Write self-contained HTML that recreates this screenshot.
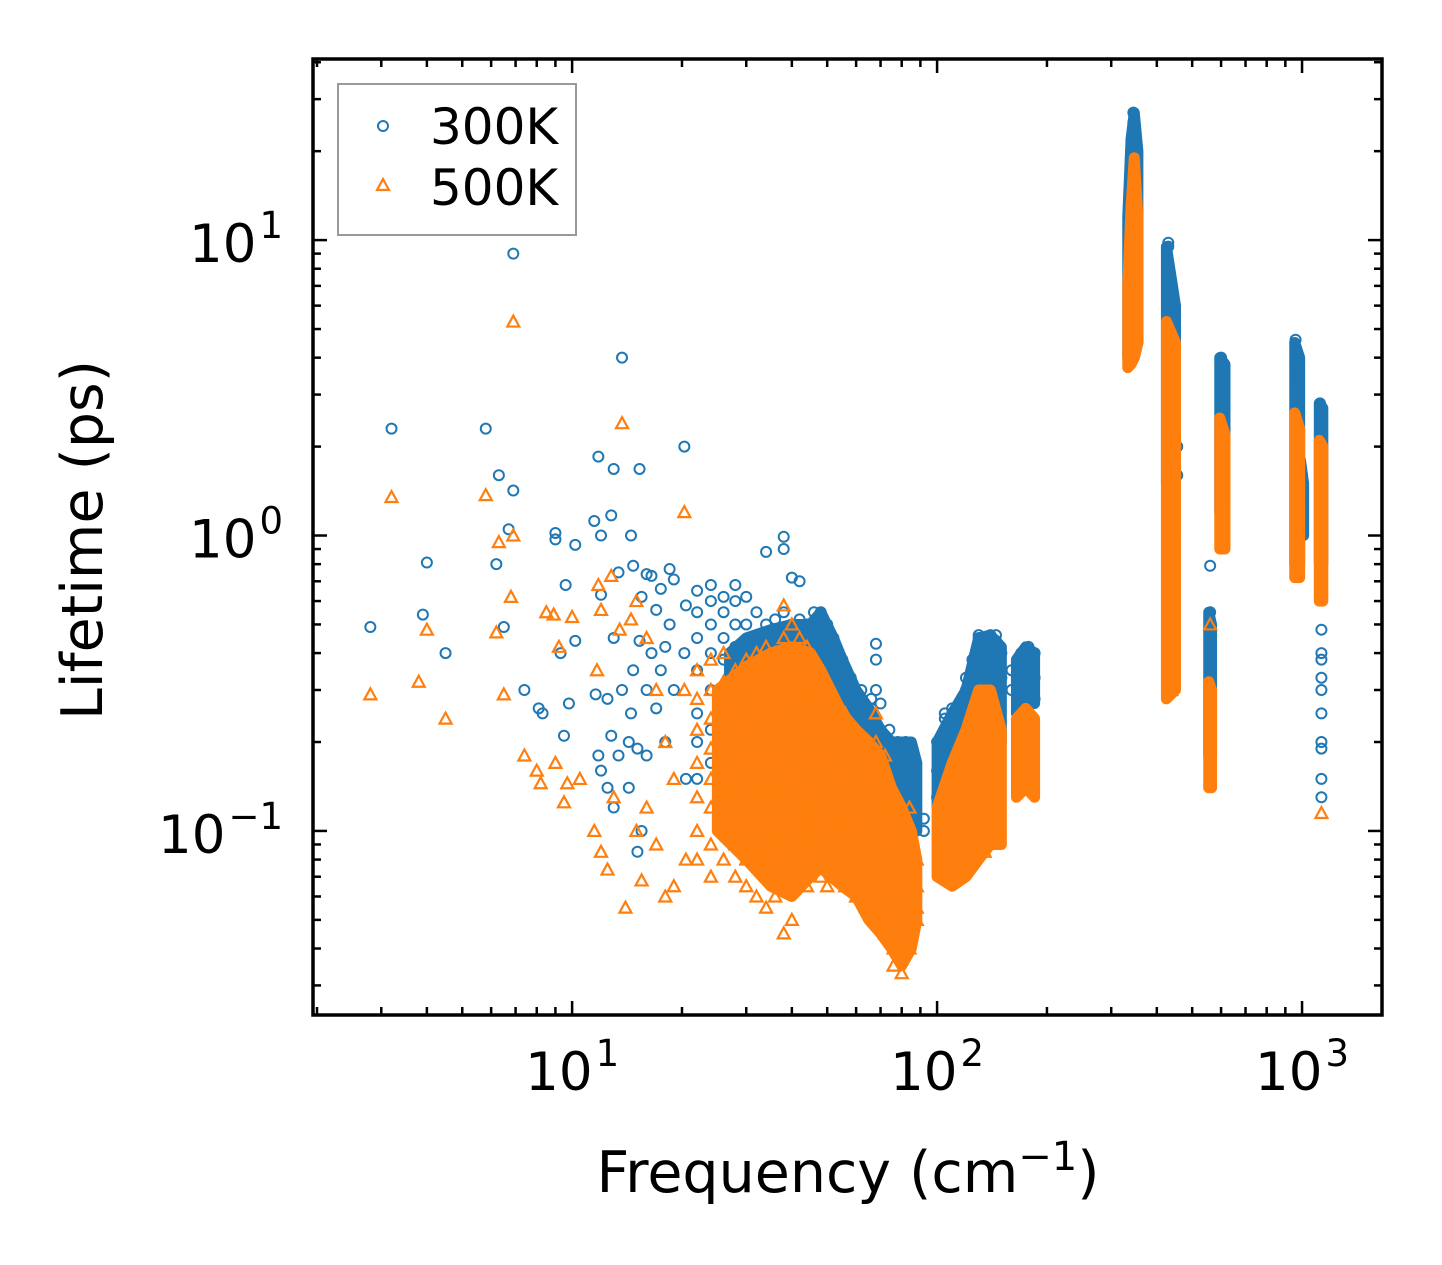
<!DOCTYPE html>
<html><head><meta charset="utf-8"><style>
html,body{margin:0;padding:0;background:#fff;}
svg{display:block;font-family:"DejaVu Sans","Liberation Sans",sans-serif;}
</style></head><body>
<svg id="chart" width="1442" height="1265" viewBox="0 0 1442 1265" xmlns="http://www.w3.org/2000/svg">
<g id="marks300"></g>
<g id="marks500"></g>
<g id="axes"></g>
<rect x="313" y="59" width="1069" height="956" fill="none" stroke="#000" stroke-width="3.5"/>
<g>
<rect x="338" y="84" width="238" height="151" fill="#fff" fill-opacity="0.8" stroke="#999" stroke-width="2"/>
<g>
<circle cx="383" cy="126" r="5" fill="none" stroke="#1f77b4" stroke-width="2"/>
<text x="430" y="144" font-size="50">300K</text></g>
<g>
<polygon points="383,179 389,190 377,190" fill="none" stroke="#ff7f0e" stroke-width="2.2"/>
<text x="430" y="205" font-size="50">500K</text></g>
</g>
<text x="848" y="1192" font-size="57" text-anchor="middle">Frequency (cm<tspan dy="-22" font-size="40">−1</tspan><tspan dy="22">)</tspan></text>
<text transform="translate(102,540) rotate(-90)" font-size="57" text-anchor="middle">Lifetime (ps)</text>
</svg>
<script>
// data: [frequency, [lifetimes...]]
const blue300 = [
[2.8,[0.49]],[3.2,[2.3]],[3.9,[0.54]],[4.0,[0.81]],[4.5,[0.40]],[5.8,[2.3]],[6.2,[0.8]],[6.3,[1.6]],[6.5,[0.49]],[6.7,[1.05]],[6.9,[9.0,1.42]],[7.4,[0.30]],[8.1,[0.26]],[8.3,[0.25]],[9.0,[0.97,1.02]],[9.3,[0.40]],[9.5,[0.21]],[9.6,[0.68]],[9.8,[0.27]],[10.2,[0.93,0.44]],[11.5,[1.12]],[11.6,[0.29]],[11.8,[1.85,0.18]],[12,[1.0,0.63,0.16]],[12.5,[0.28,0.14]],[12.8,[1.17,0.21]],[13,[1.68,0.45,0.12]],[13.4,[0.75,0.18]],[13.7,[4.0,0.3]],[14.3,[0.2,0.14]],[14.5,[1.0,0.25]],[14.7,[0.79,0.35]],[15.1,[0.085,0.19]],[15.3,[1.68,0.44]],[15.5,[0.62,0.1]],[16,[0.74,0.3,0.18]],[16.5,[0.73,0.4]],[17,[0.56,0.26]],[17.5,[0.66,0.35]],[18,[0.42,0.2]],[18.5,[0.77,0.5]],[19,[0.71,0.3]],[20.3,[2.0,0.4]],[20.5,[0.58,0.15]],
[22,[0.65,0.55,0.45,0.35,0.25,0.2,0.15]],[24,[0.68,0.6,0.5,0.4,0.3,0.22,0.17]],[26,[0.62,0.55,0.45,0.38,0.3,0.24]],[28,[0.68,0.6,0.5,0.42,0.33,0.26]],[30,[0.62,0.5,0.42,0.35,0.28]],[32,[0.55,0.46,0.38,0.3]],[34,[0.88,0.5,0.42,0.35]],[36,[0.52,0.44,0.37,0.3]],[38,[0.99,0.9,0.55,0.46,0.4]],[40,[0.72,0.5,0.43,0.36]],[42,[0.7,0.52,0.45,0.38]],[44,[0.5,0.43,0.36]],[46,[0.55,0.45,0.38,0.3]],[48,[0.55,0.5,0.42,0.34]],[50,[0.5,0.45,0.38,0.3,0.25]],[52,[0.45,0.4,0.33,0.27,0.22]],[55,[0.38,0.35,0.29,0.24,0.2]],[58,[0.33,0.3,0.25,0.21,0.17]],[62,[0.3,0.27,0.22,0.18]],[66,[0.28,0.26,0.21,0.17,0.14]],[68,[0.43,0.38,0.3]],[70,[0.27,0.22,0.18,0.15,0.12]],[74,[0.22,0.2,0.17,0.14,0.12]],[78,[0.2,0.18,0.15,0.13,0.11]],[82,[0.2,0.18,0.16,0.13,0.1]],[86,[0.15,0.12,0.1,0.09]],[92,[0.11,0.1]],
[100,[0.2,0.16,0.13]],[105,[0.25,0.24,0.18,0.14]],[110,[0.26,0.25,0.2,0.16]],[115,[0.25,0.22,0.18]],[120,[0.33,0.3,0.25,0.2]],[125,[0.38,0.35,0.28]],[130,[0.46,0.45,0.38,0.3]],[135,[0.45,0.42,0.35]],[140,[0.46,0.45,0.38,0.32]],[145,[0.46,0.44,0.36,0.3]],[150,[0.4,0.33]],[160,[0.35,0.3]],[170,[0.4,0.34,0.28]],[178,[0.42,0.36,0.3]],[185,[0.4,0.33,0.28]],
[345,[27,25]],[430,[9.8,9.5,8,7]],[438,[6,5,4]],[445,[2.7,2,1.5,1.2,0.9]],[455,[2,1.6]],
[560,[0.55,0.5,0.79]],[600,[4,3.7]],[610,[3.8]],
[960,[4.6,4.2,3.8]],[975,[4,3.4]],[1000,[1.6,1.3,1.1]],[1120,[2.8,2.5]],[1130,[2.7,0.48,0.4,0.38,0.33,0.3,0.25,0.2,0.19,0.15,0.13]]
];
const orange500 = [
[2.8,[0.29]],[3.2,[1.35]],[3.8,[0.32]],[4.0,[0.48]],[4.5,[0.24]],[5.8,[1.37]],[6.2,[0.47]],[6.3,[0.95]],[6.5,[0.29]],[6.8,[0.62]],[6.9,[5.3,1.0]],[7.4,[0.18]],[8,[0.16]],[8.2,[0.145]],[8.5,[0.55]],[8.9,[0.54]],[9,[0.17]],[9.2,[0.42]],[9.5,[0.125]],[9.7,[0.145]],[10,[0.53]],[10.5,[0.15]],[11.5,[0.1]],[11.7,[0.35]],[11.8,[0.68]],[12,[0.56,0.085]],[12.5,[0.074]],[12.8,[0.73]],[13,[0.13]],[13.5,[0.48]],[13.7,[2.4]],[14,[0.055]],[14.5,[0.52]],[15,[0.6,0.1]],[15.5,[0.068]],[16,[0.45,0.12]],[17,[0.09,0.3]],[18,[0.06,0.2]],[19,[0.065,0.15]],[20.3,[1.2,0.3]],[20.5,[0.08]],
[22,[0.35,0.28,0.22,0.17,0.13,0.1,0.08]],[24,[0.38,0.3,0.24,0.19,0.15,0.12,0.09,0.07]],[26,[0.4,0.32,0.25,0.2,0.16,0.13,0.1,0.08]],[28,[0.35,0.28,0.22,0.18,0.14,0.11,0.09,0.07]],[30,[0.38,0.3,0.24,0.19,0.15,0.12,0.1,0.08,0.065]],[32,[0.4,0.32,0.26,0.21,0.17,0.13,0.1,0.08,0.06]],[34,[0.42,0.34,0.27,0.21,0.17,0.13,0.1,0.08,0.055]],[36,[0.4,0.32,0.26,0.21,0.17,0.13,0.1,0.08,0.06]],[38,[0.58,0.45,0.36,0.29,0.23,0.18,0.14,0.11,0.085,0.065,0.045]],[40,[0.5,0.4,0.32,0.25,0.2,0.16,0.12,0.09,0.07,0.05]],[42,[0.45,0.36,0.29,0.23,0.18,0.14,0.11,0.085]],[44,[0.42,0.34,0.27,0.21,0.17,0.13,0.1,0.08,0.065]],[46,[0.38,0.3,0.24,0.19,0.15,0.12,0.095,0.075]],[48,[0.35,0.28,0.22,0.17,0.14,0.11,0.09,0.07]],[50,[0.3,0.24,0.19,0.15,0.12,0.1,0.08,0.065]],[53,[0.28,0.22,0.18,0.14,0.11,0.09,0.075]],[56,[0.25,0.2,0.16,0.13,0.1,0.08,0.065]],[60,[0.22,0.18,0.14,0.11,0.09,0.075,0.06]],[64,[0.18,0.15,0.12,0.1,0.08,0.065,0.055]],[68,[0.25,0.2,0.16,0.13,0.1,0.08,0.06,0.05]],[72,[0.18,0.14,0.11,0.09,0.07,0.055,0.045]],[76,[0.12,0.1,0.08,0.065,0.05,0.04,0.035]],[80,[0.1,0.08,0.065,0.05,0.04,0.033]],[84,[0.12,0.09,0.07,0.055,0.045,0.04]],[88,[0.08,0.065,0.055,0.05]],
[135,[0.085]],[438,[0.3]],[560,[0.5]],[1130,[0.115]]
];
// dense clusters: each cluster is a list of frequencies with lower/upper lifetime envelopes
const band300Freq = [[27,30,35,40,45,48,52,55,60,65,70,75,80,85,88],[100,110,120,130,140,150],[165,175,185],[333,340,347,355],[425,450],[555,565],[595,615],[955,985],[990,1010],[1115,1140]];
const band300Hi = [[0.4,0.45,0.48,0.5,0.5,0.55,0.45,0.38,0.3,0.26,0.22,0.2,0.2,0.2,0.17],[0.2,0.25,0.3,0.45,0.46,0.42],[0.38,0.42,0.4],[12,22,27,20],[9.5,6],[0.55,0.5],[4,3.8],[4.5,4],[1.8,1.5],[2.8,2.7]];
const band300Lo = [[0.25,0.18,0.12,0.1,0.1,0.1,0.1,0.1,0.1,0.1,0.1,0.1,0.1,0.1,0.1],[0.12,0.12,0.15,0.2,0.2,0.2],[0.25,0.27,0.27],[4,4,4,4.5],[1.5,1],[0.18,0.18],[1.2,1.3],[0.8,0.8],[1,1],[0.8,0.8]];
const band500Freq = [[25,30,35,40,45,48,55,60,65,70,75,80,85,88],[100,110,120,130,140,150],[165,175,185],[333,340,347,355],[425,450],[555,565],[595,615],[955,985],[1115,1140]];
const band500Hi = [[0.3,0.36,0.4,0.42,0.4,0.35,0.25,0.22,0.2,0.18,0.14,0.12,0.1,0.08],[0.12,0.17,0.22,0.3,0.3,0.22],[0.24,0.26,0.24],[7,13,19,12],[5.3,4.5],[0.32,0.3],[2.5,2.2],[2.6,2.3],[2.1,2]];
const band500Lo = [[0.1,0.08,0.065,0.06,0.07,0.075,0.065,0.06,0.05,0.045,0.04,0.035,0.04,0.05],[0.07,0.065,0.07,0.08,0.09,0.09],[0.13,0.14,0.13],[3.7,3.8,4,4.5],[0.28,0.3],[0.14,0.14],[0.9,0.9],[0.72,0.72],[0.6,0.6]];
const xMajorTicks = [10,100,1000];
const yMajorTicks = [0.1,1,10];
const xTickExps = ["1","2","3"];
const yTickExps = ["−1","0","1"];

const NS = "http://www.w3.org/2000/svg";
const L=313,R=1382,T=59,B=1015;
const xLo=Math.log10(1.95), xHi=Math.log10(1656);
const yLo=-1.623, yHi=1.613;
function xs(v){return L+(Math.log10(v)-xLo)/(xHi-xLo)*(R-L);}
function ys(v){return B-(Math.log10(v)-yLo)/(yHi-yLo)*(B-T);}
function mk(tag,attrs,parent){const e=document.createElementNS(NS,tag);for(const k in attrs)e.setAttribute(k,attrs[k]);parent.appendChild(e);return e;}
function drawBands(freqs,his,los,color,parent,name){
  freqs.forEach((fs,i)=>{
    const up=fs.map((f,j)=>`${xs(f)},${ys(his[i][j])}`);
    const dn=fs.map((f,j)=>`${xs(f)},${ys(los[i][j])}`).reverse();
    const p=mk('polygon',{points:up.concat(dn).join(' '),fill:color,stroke:color,'stroke-width':11,'stroke-linejoin':'round'},parent);
    
    
  });
}

const g3=document.getElementById('marks300');
drawBands(band300Freq,band300Hi,band300Lo,'#1f77b4',g3,'cluster-300k');
blue300.forEach(([f,vals])=>vals.forEach(v=>{
  const c=mk('circle',{cx:xs(f),cy:ys(v),r:5,fill:'none',stroke:'#1f77b4','stroke-width':2},g3);
  
  
}));
const g5=document.getElementById('marks500');
drawBands(band500Freq,band500Hi,band500Lo,'#ff7f0e',g5,'cluster-500k');
orange500.forEach(([f,vals])=>vals.forEach(v=>{
  const x=xs(f),y=ys(v);
  const p=mk('polygon',{points:`${x},${y-6} ${x+6},${y+5} ${x-6},${y+5}`,fill:'none',stroke:'#ff7f0e','stroke-width':2.2},g5);
  
  
}));

const ax=document.getElementById('axes');
function tick(x1,y1,x2,y2){mk('line',{x1,y1,x2,y2,stroke:'#000','stroke-width':2.5},ax);}
for(let d=0;d<=3;d++){for(let m=1;m<=9;m++){const v=m*Math.pow(10,d);if(v<1.95||v>1656)continue;
  const x=xs(v),len=m===1?14:8;tick(x,B,x,B-len);tick(x,T,x,T+len);}}
xMajorTicks.forEach((v,i)=>{
  const t=mk('text',{x:xs(v),y:1090,'font-size':53,'text-anchor':'middle'},ax);
  
  
  t.innerHTML=`10<tspan dx="3" dy="-24" font-size="37">${xTickExps[i]}</tspan>`;
});
for(let d=-2;d<=1;d++){for(let m=1;m<=9;m++){const v=m*Math.pow(10,d);const lg=Math.log10(v);if(lg<yLo||lg>yHi)continue;
  const y=ys(v),len=m===1?14:8;tick(L,y,L+len,y);tick(R,y,R-len,y);}}
yMajorTicks.forEach((v,i)=>{
  const t=mk('text',{x:283,y:ys(v)+22,'font-size':53,'text-anchor':'end'},ax);
  
  
  t.innerHTML=`10<tspan dx="3" dy="-24" font-size="37">${yTickExps[i]}</tspan>`;
});
</script>
</body></html>
